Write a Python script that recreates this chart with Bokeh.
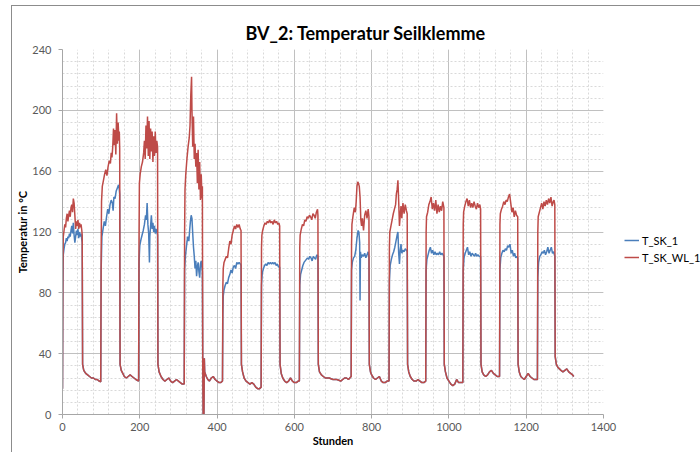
from bokeh.plotting import figure
from bokeh.models import Legend, LegendItem, SingleIntervalTicker, Range1d, ColumnDataSource
from bokeh.embed import file_html
from bokeh.resources import INLINE

# (hours, temperature) pairs
cool_phase = [
    (52, 33), (55, 29), (60, 27), (65, 26), (70, 25), (75, 24), (80, 24), (85, 23), (90, 23), (95, 22), (99, 21.5),
    (149, 33), (152, 29), (156, 27), (160, 25), (165, 24), (170, 25), (175, 26), (180, 25), (185, 24), (190, 23), (197, 22),
    (247, 33), (250, 28), (255, 25), (260, 23), (265, 22), (270, 23), (275, 24), (280, 22), (285, 21), (290, 22), (295, 23),
    (300, 22), (305, 21), (310, 20), (315, 20),
    (363, 30), (364, 0), (366, 0), (367, 37), (368, 28), (372, 25), (376, 23), (380, 22), (385, 24), (390, 25), (395, 23),
    (400, 22), (405, 21), (410, 21), (414, 22),
    (463, 33), (466, 28), (470, 24), (475, 22), (480, 21), (485, 20), (490, 21), (495, 20), (500, 18), (505, 17), (510, 17), (514, 18),
    (563, 33), (566, 27), (570, 24), (575, 22), (580, 21), (585, 22), (590, 24), (595, 22), (600, 21), (605, 21), (610, 22), (613, 22),
    (662, 33), (665, 28), (670, 26), (675, 25), (680, 24), (690, 24), (700, 23), (710, 23), (720, 22), (725, 23), (730, 24),
    (735, 24), (740, 23), (747, 25),
    (794, 33), (797, 28), (800, 26), (805, 24), (810, 23), (815, 24), (820, 25), (825, 22), (830, 21), (835, 21), (840, 22), (845, 22),
    (893, 33), (896, 28), (900, 25), (905, 23), (910, 22), (915, 22), (920, 23), (925, 22), (930, 21), (935, 21), (940, 22),
    (988, 33), (991, 28), (995, 24), (1000, 22), (1005, 20), (1010, 19), (1015, 20), (1020, 23), (1025, 21), (1030, 21), (1036, 21),
    (1083, 33), (1086, 28), (1090, 26), (1095, 25), (1100, 26), (1105, 28), (1110, 29), (1115, 27), (1120, 26), (1125, 25), (1131, 25),
    (1179, 33), (1182, 28), (1186, 25), (1190, 24), (1195, 23), (1200, 25), (1205, 27), (1210, 25), (1215, 24), (1220, 23),
    (1225, 23), (1229, 23),
    (1275, 38), (1278, 33), (1282, 31), (1286, 30), (1290, 29), (1295, 28), (1300, 29), (1305, 30), (1310, 28), (1315, 27),
    (1320, 26), (1323, 25),
]

t_sk_wl_1_heat = [
    (0, 17), (1, 95), (2, 117), (4, 121), (6, 125), (8, 123), (10, 129), (12, 132), (14, 127), (16, 131), (18, 134), (20, 130),
    (22, 136), (24, 138), (26, 133), (28, 142), (30, 139), (32, 131), (34, 122), (36, 127), (38, 124), (40, 128), (42, 122),
    (44, 126), (46, 123), (48, 125), (50, 121), (51, 118),
    (100, 105), (101, 140), (103, 150), (106, 154), (109, 158), (112, 161), (115, 157), (118, 163), (121, 167), (124, 165),
    (126, 172), (128, 169), (130, 176), (132, 188), (134, 177), (136, 187), (138, 171), (140, 198), (142, 178), (144, 192),
    (146, 180), (147, 186), (148, 175),
    (198, 115), (199, 152), (201, 158), (204, 163), (207, 166), (210, 172), (212, 180), (214, 168), (216, 190), (218, 175),
    (220, 196), (222, 170), (224, 193), (226, 168), (228, 188), (230, 173), (232, 186), (234, 166), (236, 183), (238, 170),
    (240, 186), (242, 172), (244, 180), (246, 176),
    (316, 120), (317, 148), (319, 158), (322, 168), (325, 176), (328, 182), (330, 190), (332, 210), (334, 222), (335, 200),
    (337, 176), (339, 196), (341, 168), (343, 178), (345, 163), (347, 172), (349, 152), (351, 174), (353, 148), (355, 166),
    (357, 141), (359, 158), (361, 142), (362, 150),
    (415, 85), (416, 96), (418, 100), (421, 102), (424, 104), (427, 103), (430, 109), (433, 114), (436, 112), (439, 118),
    (442, 121), (445, 124), (448, 122), (451, 125), (454, 123), (457, 125), (460, 122), (462, 121),
    (515, 110), (516, 118), (518, 121), (521, 124), (524, 126), (527, 125), (530, 127), (533, 126), (536, 128), (539, 126),
    (542, 127), (545, 125), (548, 128), (551, 126), (554, 127), (557, 125), (560, 126), (562, 124),
    (614, 110), (615, 118), (618, 122), (621, 125), (624, 124), (627, 128), (630, 127), (633, 130), (636, 129), (639, 131),
    (642, 130), (645, 128), (648, 132), (651, 131), (654, 129), (657, 133), (660, 135), (661, 131),
    (748, 112), (749, 125), (752, 131), (755, 136), (758, 133), (760, 140), (762, 150), (764, 153), (766, 152), (768, 150),
    (770, 143), (772, 128), (774, 124), (776, 129), (779, 121), (782, 131), (785, 134), (788, 129), (791, 135), (793, 130),
    (846, 110), (847, 120), (850, 124), (853, 128), (856, 132), (859, 135), (862, 138), (864, 145), (866, 148), (868, 154),
    (870, 140), (872, 124), (874, 131), (876, 137), (878, 129), (881, 139), (884, 132), (887, 138), (890, 134), (892, 132),
    (941, 120), (942, 130), (945, 133), (948, 138), (951, 140), (954, 143), (957, 135), (960, 139), (963, 134), (966, 141),
    (969, 132), (972, 138), (975, 133), (978, 137), (981, 134), (984, 140), (987, 136),
    (1037, 125), (1038, 133), (1041, 137), (1044, 140), (1047, 142), (1050, 137), (1053, 141), (1056, 136), (1059, 139),
    (1062, 136), (1065, 140), (1068, 137), (1071, 135), (1074, 139), (1077, 136), (1080, 138), (1082, 135),
    (1132, 125), (1133, 132), (1136, 135), (1139, 137), (1142, 140), (1145, 138), (1148, 141), (1151, 140), (1154, 143),
    (1157, 145), (1160, 139), (1163, 133), (1166, 136), (1169, 130), (1172, 134), (1175, 131), (1178, 130),
    (1230, 120), (1231, 130), (1234, 133), (1237, 136), (1240, 139), (1243, 135), (1246, 140), (1249, 137), (1252, 141),
    (1255, 138), (1258, 142), (1261, 139), (1264, 143), (1267, 137), (1270, 140), (1272, 141), (1274, 138),
]

t_sk_1_heat = [
    (0, 17), (1, 82), (2, 105), (4, 109), (6, 112), (8, 113), (10, 116), (12, 114), (14, 117), (16, 116), (18, 119), (20, 117),
    (22, 121), (24, 124), (26, 119), (28, 126), (30, 118), (32, 113), (34, 117), (36, 121), (38, 118), (40, 122), (42, 116),
    (44, 120), (46, 117), (48, 119), (50, 115), (51, 113),
    (100, 95), (102, 117), (105, 122), (108, 127), (111, 124), (114, 130), (117, 135), (120, 132), (123, 138), (126, 141),
    (129, 139), (131, 134), (133, 143), (136, 142), (139, 147), (142, 149), (145, 151), (147, 148), (148, 145),
    (198, 100), (200, 111), (203, 115), (206, 118), (209, 121), (212, 125), (215, 131), (217, 128), (219, 139), (221, 125),
    (223, 119), (225, 100), (226, 117), (228, 124), (230, 131), (232, 122), (234, 126), (236, 120), (238, 124), (240, 119),
    (242, 122), (244, 120), (246, 118),
    (316, 95), (318, 104), (321, 111), (324, 117), (327, 114), (329, 121), (331, 127), (333, 131), (335, 129), (337, 119),
    (339, 110), (341, 104), (343, 96), (345, 101), (347, 91), (349, 97), (351, 100), (353, 94), (355, 90), (357, 99),
    (359, 101), (361, 96), (362, 94),
    (415, 65), (416, 78), (418, 82), (421, 85), (424, 87), (427, 86), (430, 90), (433, 92), (436, 95), (439, 93), (442, 97),
    (445, 98), (448, 96), (451, 100), (454, 99), (457, 100), (460, 99), (462, 98),
    (515, 85), (517, 93), (520, 96), (523, 98), (526, 99), (529, 98), (532, 100), (535, 99), (538, 100), (541, 99), (544, 100),
    (547, 99), (550, 100), (553, 98), (556, 99), (559, 97), (562, 97),
    (614, 85), (616, 92), (619, 95), (622, 98), (625, 100), (628, 101), (631, 102), (634, 103), (637, 102), (640, 104),
    (643, 103), (646, 101), (649, 104), (652, 103), (655, 102), (658, 105), (661, 104),
    (748, 95), (750, 100), (753, 103), (756, 104), (759, 108), (762, 116), (765, 121), (767, 120), (769, 113), (770, 75),
    (771, 107), (773, 103), (776, 105), (779, 104), (782, 106), (785, 103), (788, 105), (791, 107), (793, 103),
    (846, 88), (848, 98), (851, 102), (854, 105), (857, 107), (860, 110), (863, 114), (866, 118), (868, 120), (870, 106),
    (872, 99), (874, 108), (876, 112), (878, 106), (881, 108), (884, 107), (887, 109), (890, 108), (892, 107),
    (941, 95), (943, 102), (946, 105), (949, 108), (952, 110), (955, 106), (958, 108), (961, 105), (964, 107), (967, 105),
    (970, 106), (973, 105), (976, 107), (979, 105), (982, 106), (985, 105), (987, 104),
    (1037, 95), (1039, 103), (1042, 106), (1045, 108), (1048, 110), (1051, 105), (1054, 107), (1057, 104), (1060, 106),
    (1063, 105), (1066, 104), (1069, 106), (1072, 104), (1075, 105), (1078, 104), (1082, 104),
    (1132, 95), (1134, 103), (1137, 106), (1140, 108), (1143, 107), (1146, 109), (1149, 108), (1152, 111), (1155, 110),
    (1158, 112), (1161, 106), (1164, 108), (1167, 104), (1170, 106), (1173, 103), (1176, 104), (1178, 103),
    (1230, 90), (1232, 100), (1235, 104), (1238, 105), (1241, 107), (1244, 106), (1247, 108), (1250, 105), (1253, 107),
    (1256, 110), (1259, 106), (1262, 108), (1265, 110), (1268, 106), (1271, 107), (1274, 104),
]

series_names = ["T_SK_1", "T_SK_WL_1"]
series_colors = ["#4a7ebb", "#be4b48"]

red = sorted(cool_phase + t_sk_wl_1_heat)
blue = sorted(cool_phase + t_sk_1_heat)
src_blue = ColumnDataSource(dict(x=[a for a, b in blue], y=[b for a, b in blue]))
src_red = ColumnDataSource(dict(x=[a for a, b in red], y=[b for a, b in red]))

FONT = "Lato"

p = figure(frame_width=541, frame_height=365, output_backend="svg", toolbar_location=None,
           x_range=Range1d(0, 1400), y_range=Range1d(0, 240),
           min_border_left=50, min_border_top=43, min_border_right=97, min_border_bottom=38,
           background_fill_color="white", border_fill_color="white")
p.margin = (5, 0, 0, 11)
p.outline_line_color = None
p.styles = {"border-left": "1px solid #8c8c8c", "border-top": "1px solid #8c8c8c"}

p.title.text = "BV_2: Temperatur Seilklemme"
p.title.align = "left"
p.title.text_font = FONT
p.title.text_font_size = "18px"
p.title.text_font_style = "bold"
p.title.text_color = "#000000"
p.title.offset = 183
p.title.standoff = 12

p.xaxis.ticker = SingleIntervalTicker(interval=200, num_minor_ticks=5)
p.yaxis.ticker = SingleIntervalTicker(interval=40, num_minor_ticks=5)
for ax in (p.xaxis, p.yaxis):
    ax.axis_line_color = "#a6a6a6"
    ax.major_tick_line_color = "#a6a6a6"
    ax.major_tick_out = 4
    ax.major_tick_in = 0
    ax.minor_tick_out = 0
    ax.minor_tick_in = 0
    ax.major_label_text_font = FONT
    ax.major_label_text_font_size = "11px"
    ax.major_label_text_color = "#595959"
    ax.axis_label_text_font = FONT
    ax.axis_label_text_font_size = "11px"
    ax.axis_label_text_font_style = "bold"
    ax.axis_label_text_color = "#000000"
p.xaxis.axis_label = "Stunden"
p.yaxis.axis_label = "Temperatur in °C"
p.yaxis.major_label_standoff = 7
p.yaxis.axis_label_standoff = 0
p.xaxis.major_label_standoff = 4
p.xaxis.axis_label_standoff = 0

for g in (p.xgrid, p.ygrid):
    g.grid_line_color = "#c0c0c0"
    g.grid_line_width = 1
    g.minor_grid_line_color = "#d9d9d9"
    g.minor_grid_line_dash = "2 2"

rb = p.line("x", "y", source=src_blue, line_color=series_colors[0], line_width=1.5)
rr = p.line("x", "y", source=src_red, line_color=series_colors[1], line_width=1.5)

legend = Legend(items=[LegendItem(label=series_names[0], renderers=[rb]),
                       LegendItem(label=series_names[1], renderers=[rr])],
                location=(21, 150), border_line_color=None, background_fill_alpha=0,
                label_text_font=FONT, label_text_font_size="11px", label_text_color="#000000",
                glyph_width=15, glyph_height=14, label_height=14, spacing=3, padding=0, margin=0,
                label_standoff=3)
p.add_layout(legend, "right")

open("out.html", "w").write(file_html(p, INLINE))
